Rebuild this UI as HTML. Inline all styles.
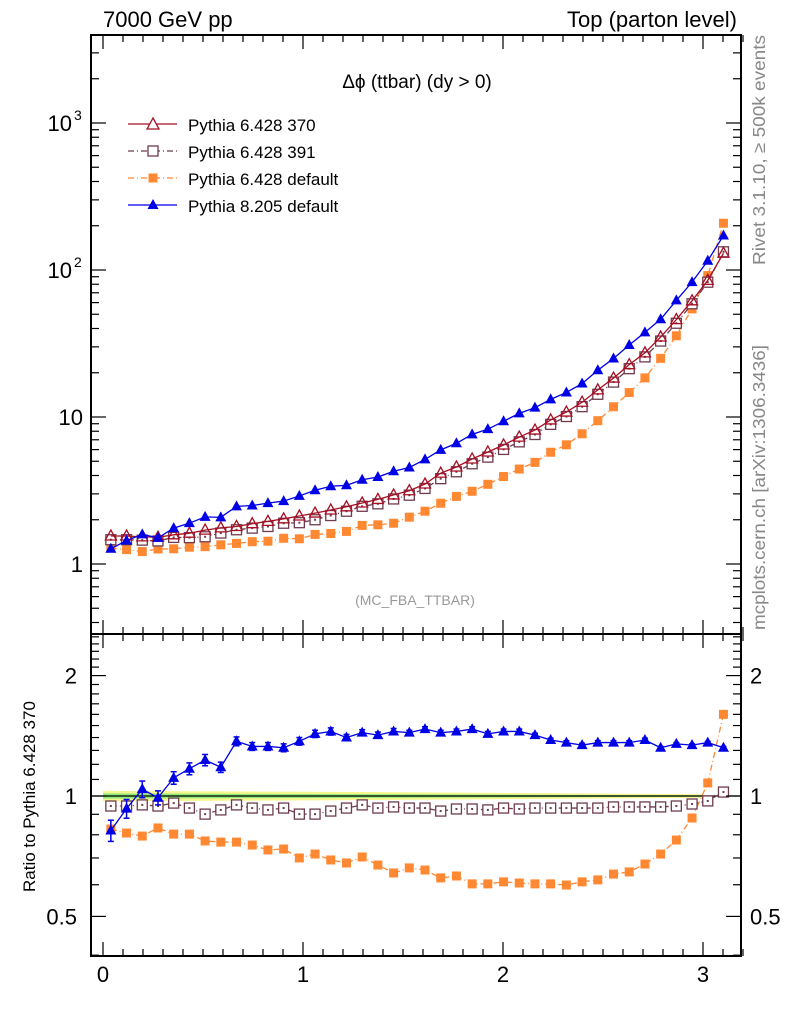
<!DOCTYPE html>
<html><head><meta charset="utf-8"><style>
body{margin:0;background:#fff;}
svg{display:block;font-family:"Liberation Sans",sans-serif;}
</style></head><body>
<svg id="c" width="786" height="1024" xmlns="http://www.w3.org/2000/svg"></svg>
<script>
const categories=[...Array(40).keys()];
const refValues=[1.55,1.55,1.53,1.52,1.58,1.62,1.7,1.76,1.8,1.88,1.95,2.03,2.12,2.22,2.33,2.45,2.6,2.75,2.95,3.15,3.5,4.15,4.57,5.18,5.78,6.45,7.3,8.15,9.55,10.8,12.6,15.3,18.4,22.7,27.3,35,46,61.7,85,130];
const ratio391=[0.944,0.944,0.95,0.944,0.96,0.933,0.901,0.923,0.95,0.933,0.923,0.933,0.901,0.901,0.917,0.933,0.95,0.933,0.939,0.933,0.933,0.917,0.928,0.928,0.923,0.933,0.928,0.933,0.933,0.933,0.933,0.933,0.939,0.939,0.939,0.939,0.944,0.955,0.972,1.023];
const ratioDef6=[0.827,0.808,0.794,0.832,0.803,0.803,0.772,0.767,0.767,0.754,0.733,0.737,0.7,0.716,0.692,0.68,0.704,0.672,0.642,0.661,0.653,0.624,0.631,0.603,0.603,0.61,0.606,0.603,0.603,0.599,0.61,0.617,0.638,0.646,0.676,0.716,0.776,0.881,1.078,1.6];
const ratioP8=[0.82,0.93,1.04,0.99,1.11,1.17,1.23,1.18,1.37,1.33,1.33,1.32,1.37,1.43,1.45,1.4,1.44,1.42,1.45,1.44,1.47,1.44,1.45,1.47,1.43,1.45,1.45,1.42,1.38,1.36,1.34,1.36,1.36,1.36,1.38,1.32,1.35,1.34,1.36,1.32];
const p8Err=[0.05,0.05,0.05,0.04,0.04,0.04,0.04,0.035,0.035,0.03,0.03,0.03,0.03,0.03,0.03,0.025,0.025,0.025,0.025,0.02,0.02,0.02,0.02,0.02,0.02,0.02,0.02,0.015,0.015,0.015,0.015,0.015,0.015,0.015,0.015,0.01,0.01,0.01,0.01,0.01];
const xTicks=[0,1,2,3];
const yMainTicks=[1,10,100,1000];
const yRatioTicks=[0.5,1,2];

const NS="http://www.w3.org/2000/svg";
const svg=document.getElementById('c');
function el(tag,attrs,parent){const e=document.createElementNS(NS,tag);for(const k in attrs)e.setAttribute(k,attrs[k]);(parent||svg).appendChild(e);return e;}
const X0=91,X1=741,MT=35,MB=634,RB=956;
const bw=Math.PI/40;
const xs=v=>103+v*200;
const xc=i=>xs((i+0.5)*bw);
const ym=v=>564-147*Math.log10(v);
const yr=v=>796-400*Math.log10(v);
const refV=refValues, v391=refV.map((v,i)=>v*ratio391[i]), vDef=refV.map((v,i)=>v*ratioDef6[i]), vP8=refV.map((v,i)=>v*ratioP8[i]);
const clip1=el('clipPath',{id:'cm'});el('rect',{x:X0,y:MT,width:X1-X0,height:MB-MT},clip1);
const clip2=el('clipPath',{id:'cr'});el('rect',{x:X0,y:MB,width:X1-X0,height:RB-MB},clip2);

const band=el('g',{'clip-path':'url(#cr)'});

el('polygon',{points:`${xs(0)},${yr(1.03)} ${xs(1.5)},${yr(1.022)} ${xs(3)},${yr(1.01)} ${xs(3)},${yr(0.99)} ${xs(1.5)},${yr(0.978)} ${xs(0)},${yr(0.97)}`,fill:'#f5f57a',opacity:0.85},band);
el('polygon',{points:`${xs(0)},${yr(1.015)} ${xs(1.5)},${yr(1.01)} ${xs(3)},${yr(1.004)} ${xs(3)},${yr(0.996)} ${xs(1.5)},${yr(0.99)} ${xs(0)},${yr(0.985)}`,fill:'#8ee87a'},band);
el('line',{x1:X0,x2:X1,y1:yr(1),y2:yr(1),stroke:'#000','stroke-width':1.3},band);

function series(name,vals,yf,color,dash,marker,clip,errs){
  const g=el('g',{'clip-path':`url(#${clip})`});
  
  el('polyline',{points:vals.map((v,i)=>`${xc(i)},${yf(v)}`).join(' '),fill:'none',stroke:color,'stroke-width':1.3,'stroke-dasharray':dash},g);
  vals.forEach((v,i)=>{
    const x=xc(i),y=yf(v);
    if(errs){el('line',{x1:x,x2:x,y1:yf(v+errs[i]),y2:yf(v-errs[i]),stroke:color,'stroke-width':1.5},g);
      el('line',{x1:x-3,x2:x+3,y1:yf(v+errs[i]),y2:yf(v+errs[i]),stroke:color,'stroke-width':1.5},g);
      el('line',{x1:x-3,x2:x+3,y1:yf(v-errs[i]),y2:yf(v-errs[i]),stroke:color,'stroke-width':1.5},g);}
    if(marker==='tri')el('polygon',{points:`${x},${y-6} ${x-5.5},${y+4} ${x+5.5},${y+4}`,fill:color},g);
    else if(marker==='otri')el('polygon',{points:`${x},${y-6} ${x-5.5},${y+4} ${x+5.5},${y+4}`,fill:'none',stroke:color,'stroke-width':1.3},g);
    else if(marker==='osq'){el('rect',{x:x-5,y:y-5,width:10,height:10,fill:'#fff',stroke:color,'stroke-width':1.3},g);el('rect',{x:x-1,y:y-1,width:2,height:2,fill:color},g);}
    else if(marker==='sq')el('rect',{x:x-4.5,y:y-4.5,width:9,height:9,fill:color},g);
  });
}
const C370='#a50f23',C391='#6e3b4f',CDEF='#ff8833',CP8='#0000e6';
series('series-pythia6-default',vDef,ym,CDEF,'6,3,1,3','sq','cm');
series('series-pythia6-391',v391,ym,C391,'6,3,1,3','osq','cm');
series('series-pythia6-370',refV,ym,C370,'','otri','cm');
series('series-pythia8-default',vP8,ym,CP8,'','tri','cm');
series('ratio-pythia6-default',ratioDef6,yr,CDEF,'6,3,1,3','sq','cr');
series('ratio-pythia6-391',ratio391,yr,C391,'6,3,1,3','osq','cr');
series('ratio-pythia8-default',ratioP8,yr,CP8,'','tri','cr',p8Err);

el('rect',{x:X0,y:MT,width:X1-X0,height:MB-MT,fill:'none',stroke:'#000','stroke-width':2});
el('rect',{x:X0,y:MB,width:X1-X0,height:RB-MB,fill:'none',stroke:'#000','stroke-width':2});
for(let k=0;k<=32;k++){const v=k/10;const x=xs(v);const L=(k%10===0)?14:7;
  [[MT,1],[MB,1],[MB,-1],[RB,-1]].forEach(([y,d])=>el('line',{x1:x,x2:x,y1:y,y2:y+d*L,stroke:'#000','stroke-width':1.2}));}
xTicks.forEach(v=>{const t=el('text',{x:xs(v),y:982,'font-size':22,'text-anchor':'middle'});t.textContent=v;});
for(let d=-1;d<=3;d++)for(let m=1;m<10;m++){const v=m*Math.pow(10,d);const y=ym(v);if(y<MT||y>MB)continue;const L=m===1?15:8;
  el('line',{x1:X0,x2:X0+L,y1:y,y2:y,stroke:'#000','stroke-width':1.2});el('line',{x1:X1,x2:X1-L,y1:y,y2:y,stroke:'#000','stroke-width':1.2});}
[[1,'1'],[10,'10'],[100,'10'],[1000,'10']].forEach(([v,s],i)=>{const t=el('text',{x:i>=2?72:83,y:ym(v)+8,'font-size':22,'text-anchor':'end'});t.textContent=s;
  if(i>=2){const e=el('text',{x:74,y:ym(v)-3,'font-size':14});e.textContent=i===2?'2':'3';}});
for(const v of [0.4,0.5,0.6,0.7,0.8,0.9,1,1.1,1.2,1.3,1.4,1.5,1.6,1.7,1.8,1.9,2,2.1,2.2,2.3,2.4,2.5]){const y=yr(v);const L=(v===0.5||v===1||v===2)?15:8;
  el('line',{x1:X0,x2:X0+L,y1:y,y2:y,stroke:'#000','stroke-width':1.2});el('line',{x1:X1,x2:X1-L,y1:y,y2:y,stroke:'#000','stroke-width':1.2});}
yRatioTicks.forEach(v=>{const s=String(v);const t=el('text',{x:77,y:yr(v)+8,'font-size':22,'text-anchor':'end'});t.textContent=s;
  const t2=el('text',{x:750,y:yr(v)+8,'font-size':22});t2.textContent=s;});
function txt(x,y,s,size,attrs,name){const t=el('text',Object.assign({x,y,'font-size':size},attrs||{}));t.textContent=s;return t;}
txt(103,27,'7000 GeV pp',22,{},'energy-label');
txt(737,27,'Top (parton level)',22,{'text-anchor':'end'},'process-label');
txt(417,88,'Δϕ (ttbar) (dy > 0)',19,{'text-anchor':'middle'},'plot-title');
txt(415,605,'(MC_FBA_TTBAR)',14,{'text-anchor':'middle',fill:'#999'},'analysis-label');
txt(0,0,'Ratio to Pythia 6.428 370',17,{transform:'translate(35,892) rotate(-90)'},'ratio-y-title');
txt(0,0,'Rivet 3.1.10, ≥ 500k events',17.5,{transform:'translate(765,265) rotate(-90)',fill:'#888',textLength:230,lengthAdjust:'spacingAndGlyphs'},'rivet-label');
txt(0,0,'mcplots.cern.ch [arXiv:1306.3436]',17.5,{transform:'translate(765,630) rotate(-90)',fill:'#888',textLength:285,lengthAdjust:'spacingAndGlyphs'},'mcplots-label');
const leg=[['Pythia 6.428 370',C370,'','otri'],['Pythia 6.428 391',C391,'6,3,1,3','osq'],['Pythia 6.428 default',CDEF,'6,3,1,3','sq'],['Pythia 8.205 default',CP8,'','tri']];
leg.forEach(([s,c,d,m],i)=>{const y=124+i*27;const g=el('g',{});
  el('line',{x1:128,x2:177,y1:y,y2:y,stroke:c,'stroke-width':1.3,'stroke-dasharray':d},g);const x=153;
  if(m==='otri')el('polygon',{points:`${x},${y-6} ${x-6},${y+5} ${x+6},${y+5}`,fill:'#fff',stroke:c,'stroke-width':1.3},g);
  if(m==='osq')el('rect',{x:x-5,y:y-5,width:10,height:10,fill:'#fff',stroke:c,'stroke-width':1.3},g);
  if(m==='sq')el('rect',{x:x-4.5,y:y-4.5,width:9,height:9,fill:c},g);
  if(m==='tri')el('polygon',{points:`${x},${y-6} ${x-5.5},${y+4} ${x+5.5},${y+4}`,fill:c},g);
  const t=el('text',{x:188,y:y+7,'font-size':17},g);t.textContent=s;});
</script>
</body></html>
